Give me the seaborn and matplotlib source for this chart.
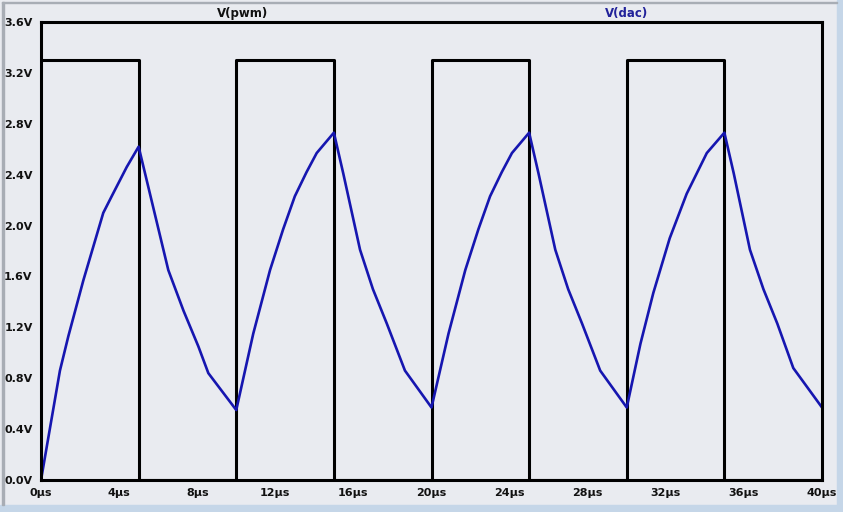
import pandas as pd
import matplotlib
matplotlib.use('Agg')
import matplotlib.pyplot as plt
import seaborn as sns
from matplotlib.patches import Rectangle

# PWM square wave (µs, V)
pwm_t = [0, 5, 5, 10, 10, 15, 15, 20, 20, 25, 25, 30, 30, 35, 35, 40]
pwm_v = [3.3, 3.3, 0, 0, 3.3, 3.3, 0, 0, 3.3, 3.3, 0, 0, 3.3, 3.3, 0, 0]

# DAC output (RC filtered)
dac_t = [0, 0.97, 1.40, 2.17, 3.19, 3.62, 4.39, 5.0,
         5.58, 6.52, 7.3, 8.06, 8.57, 10.0,
         10.87, 11.73, 12.4, 13.0, 13.6, 14.12, 15.0,
         15.48, 16.34, 17.0, 17.71, 18.64, 20.0,
         20.87, 21.73, 22.4, 23.0, 23.6, 24.12, 25.0,
         25.48, 26.34, 27.0, 27.71, 28.64, 30.0,
         30.7, 31.36, 32.2, 33.07, 34.1, 35.0,
         35.48, 36.31, 37.0, 37.71, 38.53, 40.0]
dac_v = [0, 0.86, 1.13, 1.57, 2.10, 2.23, 2.46, 2.62,
         2.25, 1.65, 1.33, 1.05, 0.84, 0.55,
         1.15, 1.65, 1.97, 2.23, 2.42, 2.57, 2.73,
         2.41, 1.81, 1.50, 1.23, 0.86, 0.57,
         1.15, 1.65, 1.97, 2.23, 2.42, 2.57, 2.73,
         2.41, 1.81, 1.50, 1.23, 0.86, 0.57,
         1.07, 1.47, 1.90, 2.25, 2.57, 2.73,
         2.41, 1.81, 1.50, 1.23, 0.88, 0.57]

x_ticks = list(range(0, 41, 4))
y_ticks = [0.0, 0.4, 0.8, 1.2, 1.6, 2.0, 2.4, 2.8, 3.2, 3.6]

bg = '#e9ebf0'
blue = '#1616b0'

sns.set_theme(style='white')
plt.rcParams['font.family'] = ['DejaVu Sans']

fig = plt.figure(figsize=(8.43, 5.12), dpi=100, facecolor=bg)
ax = fig.add_axes([41 / 843, 32 / 512, 781 / 843, 458 / 512])
ax.set_facecolor(bg)

pwm = pd.DataFrame({'t': pwm_t, 'v': pwm_v})
dac = pd.DataFrame({'t': dac_t, 'v': dac_v})
sns.lineplot(data=pwm, x='t', y='v', ax=ax, color='black', lw=2.2, sort=False, estimator=None)
sns.lineplot(data=dac, x='t', y='v', ax=ax, color=blue, lw=1.9, sort=False, estimator=None)

ax.set_xlim(0, 40)
ax.set_ylim(0, 3.6)
ax.set_xticks(x_ticks)
ax.set_xticklabels([f'{t}µs' for t in x_ticks])
ax.set_yticks(y_ticks)
ax.set_yticklabels([f'{v:.1f}V' for v in y_ticks])
ax.set_xlabel('')
ax.set_ylabel('')
ax.tick_params(axis='both', direction='out', length=5, width=2, color='black',
               labelsize=8, pad=1)
for lab in ax.get_xticklabels() + ax.get_yticklabels():
    lab.set_fontweight('bold')
    lab.set_color('#111111')
for s in ax.spines.values():
    s.set_color('black')
    s.set_linewidth(2.2)

fig.text(243 / 843, 1 - 13 / 512, 'V(pwm)', ha='center', va='center',
         fontsize=8.5, fontweight='bold', color='#111111')
fig.text(627 / 843, 1 - 13 / 512, 'V(dac)', ha='center', va='center',
         fontsize=8.5, fontweight='bold', color='#22229a')

# window frame
fig.patches.append(Rectangle((0, 0), 1, 7 / 512, transform=fig.transFigure,
                             color='#c5d6e8', zorder=-1))
fig.patches.append(Rectangle((837 / 843, 0), 6 / 843, 1, transform=fig.transFigure,
                             color='#c5d6e8', zorder=-1))
fig.patches.append(Rectangle((2 / 843, 7 / 512), 1.5 / 843, 503 / 512, transform=fig.transFigure,
                             color='#a8adb5', zorder=-1))
fig.patches.append(Rectangle((2 / 843, 509 / 512), 835 / 843, 1.5 / 512, transform=fig.transFigure,
                             color='#a8adb5', zorder=-1))

fig.savefig('out.png', dpi=100, facecolor=bg)
